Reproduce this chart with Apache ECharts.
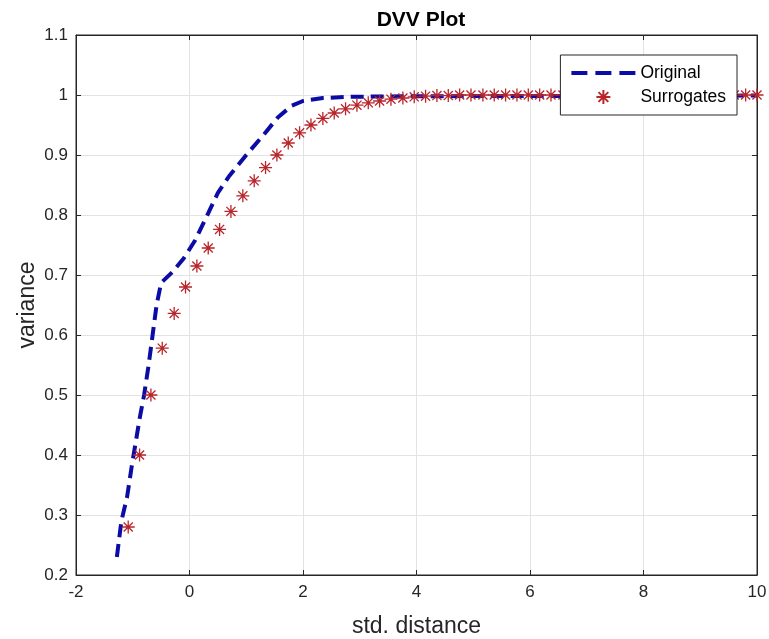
<!DOCTYPE html>
<html>
<head>
<meta charset="utf-8">
<script src="https://cdn.jsdelivr.net/npm/echarts@6/dist/echarts.min.js"></script>
<style>
  html, body { margin: 0; padding: 0; background: #fff; }
  #main { width: 769px; height: 639px; }
</style>
</head>
<body>
<div id="main"></div>
<script>
// original curve (dashed)
const origX = [-1.28, -1.2, -1.1, -1.02, -0.95, -0.88, -0.8, -0.72, -0.65, -0.58, -0.5, -0.3, -0.1, 0.1, 0.3, 0.5, 0.7, 1.0, 1.3, 1.56, 1.8, 2.0, 2.35, 2.8, 4.0, 10.0];
const origY = [0.23, 0.29, 0.33, 0.38, 0.42, 0.46, 0.5, 0.55, 0.6, 0.65, 0.687, 0.705, 0.728, 0.758, 0.797, 0.837, 0.865, 0.9, 0.933, 0.963, 0.982, 0.99, 0.995, 0.997, 0.998, 0.999];

// surrogates (stars)
const surrX = [-1.08, -0.88, -0.68, -0.48, -0.27, -0.07, 0.13, 0.33, 0.53, 0.73,
  0.94, 1.14, 1.34, 1.54, 1.74, 1.94, 2.14, 2.35, 2.55, 2.75,
  2.95, 3.15, 3.35, 3.55, 3.76, 3.96, 4.16, 4.36, 4.56, 4.76,
  4.96, 5.17, 5.37, 5.57, 5.77, 5.97, 6.17, 6.37, 6.58, 6.78,
  6.98, 7.18, 7.38, 7.58, 7.78, 7.99, 8.19, 8.39, 8.59, 8.79,
  8.99, 9.19, 9.40, 9.60, 9.80, 10.00];
const surrY = [0.28, 0.40, 0.50, 0.578, 0.636, 0.68, 0.715, 0.745, 0.776, 0.806,
  0.832, 0.857, 0.879, 0.9, 0.92, 0.937, 0.95, 0.961, 0.97, 0.977,
  0.983, 0.987, 0.99, 0.993, 0.995, 0.997, 0.998, 0.999, 0.999, 1.0,
  1.0, 1.0, 1.0, 1.0, 1.0, 1.0, 1.0, 1.0, 1.0, 1.0,
  1.0, 1.0, 1.0, 1.0, 1.0, 1.0, 1.0, 1.0, 1.0, 1.0,
  1.0, 1.0, 1.0, 1.0, 1.0, 1.0];

const chartDom = document.getElementById('main');
const myChart = echarts.init(chartDom);

const font = 'Liberation Sans, Arial, sans-serif';
const axisColor = '#262626';
const blue = '#0b0ba6';
const red = '#b8252b';
const star = 'path://M10 0 L10 20 M0 10 L20 10 M3 3 L17 17 M3 17 L17 3';
const dashIcon = 'path://M0 0 H16 V4 H0 Z M24 0 H40 V4 H24 Z M48 0 H64 V4 H48 Z';

const hiddenAxis = {
  axisLine: { onZero: false, lineStyle: { color: axisColor } },
  axisTick: { inside: true, length: 5, lineStyle: { color: axisColor } },
  axisLabel: { show: false },
  splitLine: { show: false }
};

const myChartOption = {
  animation: false,
  backgroundColor: '#fff',
  title: {
    text: 'DVV Plot',
    left: 416,
    top: 5,
    textAlign: 'center',
    textStyle: { fontFamily: font, fontSize: 21, fontWeight: 'bold', color: '#000' }
  },
  grid: {
    left: 76, right: 12, top: 35, bottom: 64,
    outerBoundsMode: 'none',
    show: true, borderColor: axisColor, borderWidth: 1
  },
  legend: {
    orient: 'vertical',
    right: 32,
    top: 55,
    padding: [8, 11, 8, 11],
    itemGap: 4,
    itemWidth: 64,
    itemHeight: 14,
    symbolKeepAspect: true,
    backgroundColor: '#fff',
    borderColor: axisColor,
    borderWidth: 1,
    borderRadius: 0,
    textStyle: { fontFamily: font, fontSize: 17.5, lineHeight: 20, color: '#000', padding: [0, 0, 0, 0] },
    data: [
      { name: 'Original', icon: dashIcon, itemStyle: { color: blue } },
      { name: 'Surrogates' }
    ]
  },
  xAxis: [
    {
      type: 'value',
      min: -2,
      max: 10,
      interval: 2,
      name: 'std. distance',
      nameLocation: 'middle',
      nameGap: 40,
      nameTextStyle: { fontFamily: font, fontSize: 23, color: axisColor },
      axisLine: { onZero: false, lineStyle: { color: axisColor } },
      axisTick: { inside: true, length: 5, lineStyle: { color: axisColor } },
      axisLabel: { fontFamily: font, fontSize: 17, color: axisColor, margin: 9 },
      splitLine: { show: true, lineStyle: { color: '#e3e3e3' } }
    },
    Object.assign({ type: 'value', position: 'top', min: -2, max: 10, interval: 2 }, hiddenAxis)
  ],
  yAxis: [
    {
      type: 'value',
      min: 0.2,
      max: 1.1,
      interval: 0.1,
      name: 'variance',
      nameLocation: 'middle',
      nameGap: 37,
      nameMoveOverlap: false,
      nameTextStyle: { fontFamily: font, fontSize: 23, color: axisColor },
      axisLine: { show: true, onZero: false, lineStyle: { color: axisColor } },
      axisTick: { show: true, inside: true, length: 5, lineStyle: { color: axisColor } },
      axisLabel: {
        fontFamily: font, fontSize: 17, color: axisColor, margin: 8,
        formatter: v => String(Math.round(v * 10) / 10)
      },
      splitLine: { show: true, lineStyle: { color: '#e3e3e3' } }
    },
    Object.assign({ type: 'value', position: 'right', min: 0.2, max: 1.1, interval: 0.1 }, hiddenAxis)
  ],
  series: [
    {
      name: 'Original',
      type: 'line',
      showSymbol: false,
      symbol: 'none',
      lineStyle: { color: blue, width: 4, type: [13, 7] },
      itemStyle: { color: blue },
      data: origX.map((x, i) => [x, origY[i]]),
      z: 2
    },
    {
      name: 'Surrogates',
      type: 'scatter',
      symbol: star,
      symbolSize: 13,
      itemStyle: { color: 'rgba(0,0,0,0)', borderColor: red, borderWidth: 1.3, opacity: 1 },
      data: surrX.map((x, i) => [x, surrY[i]]),
      z: 3
    }
  ]
};

myChartOption && myChart.setOption(myChartOption);
</script>
</body>
</html>
